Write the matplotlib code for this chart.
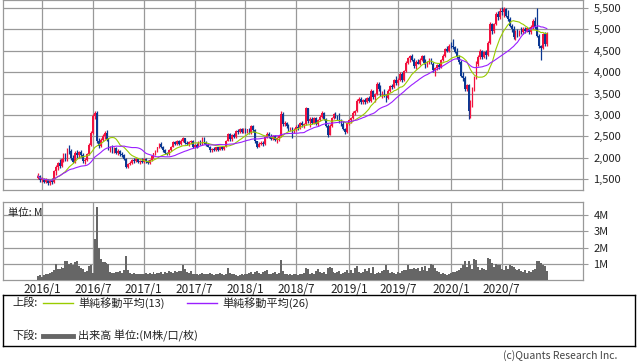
import matplotlib

matplotlib.use("Agg")
import matplotlib.pyplot as plt
import numpy as np
import pandas as pd
from matplotlib.lines import Line2D

plt.rcParams["font.family"] = ["Noto Sans CJK JP", "DejaVu Sans"]

W, H = 638, 362

# weekly candles, first week starting 2015-12-21
start_date = "2015-12-21"

opens = [
    1530, 1570, 1470, 1500, 1430, 1490, 1400, 1460, 1420, 1680,
    1780, 1870, 1800, 1960, 2050, 1950, 2200, 2150, 1980, 1900,
    2120, 2050, 2130, 2060, 1920, 1950, 2080, 2300, 2580, 2980,
    3050, 2400, 2280, 2420, 2500, 2580, 2430, 2200, 2250, 2150,
    2220, 2120, 2160, 2080, 2050, 1960, 1790, 1850, 1880, 1940,
    1910, 1960, 1900, 1930, 1900, 1960, 1920, 1870, 1940, 2030,
    2100, 2160, 2240, 2330, 2250, 2170, 2100, 2080, 2180, 2260,
    2360, 2320, 2380, 2330, 2400, 2450, 2350, 2320, 2360, 2400,
    2250, 2300, 2260, 2360, 2320, 2460, 2350, 2300, 2260, 2170,
    2200, 2180, 2240, 2190, 2250, 2200, 2260, 2400, 2550, 2430,
    2520, 2480, 2620, 2600, 2660, 2590, 2670, 2620, 2660, 2580,
    2740, 2640, 2380, 2260, 2330, 2350, 2320, 2480, 2560, 2500,
    2440, 2500, 2420, 2460, 2500, 3030, 2780, 2820, 2740, 2660,
    2700, 2600, 2680, 2720, 2700, 2800, 2760, 2780, 3150, 2850,
    2900, 2800, 2920, 2790, 2880, 2960, 3040, 2900, 2750, 2540,
    2740, 2930, 3020, 2960, 2910, 2830, 2780, 2680, 2600, 2800,
    2870, 2920, 3050, 3080, 3330, 3380, 3300, 3340, 3290, 3400,
    3330, 3560, 3420, 3480, 3720, 3600, 3480, 3520, 3450, 3400,
    3570, 3680, 3650, 3820, 3740, 3820, 3960, 3820, 4020, 4220,
    4320, 4380, 4280, 4140, 4240, 4200, 4290, 4380, 4220, 4150,
    4230, 4310, 4200, 4040, 4100, 4160, 4120, 4280, 4380, 4540,
    4500, 4620, 4600, 4580, 4480, 4350, 4240, 3920, 3860, 3600,
    3700, 3100, 3200, 3600, 3860, 4200, 4350, 4500, 4360, 4460,
    4400, 4680, 5120, 4960, 5120, 5360, 5280, 5440, 5400, 5480,
    5320, 5250, 5080, 5000, 4820, 4940, 4860, 4960, 4940, 5020,
    4960, 5040, 4930, 5060, 5200, 5050, 4850, 4600, 4560, 4900, 4650,
]
highs = [
    1640, 1590, 1540, 1530, 1520, 1500, 1480, 1520, 1700, 1830,
    1900, 1960, 2000, 2100, 2120, 2230, 2300, 2200, 2050, 2150,
    2180, 2160, 2170, 2100, 2000, 2100, 2350, 2620, 3020, 3100,
    3080, 2450, 2450, 2550, 2620, 2640, 2450, 2280, 2300, 2250,
    2240, 2200, 2180, 2130, 2090, 1980, 1880, 1920, 1960, 2000,
    1990, 1990, 1950, 1980, 1990, 1990, 1950, 1960, 2050, 2120,
    2180, 2260, 2350, 2360, 2280, 2200, 2140, 2200, 2280, 2380,
    2400, 2410, 2420, 2430, 2480, 2470, 2400, 2380, 2420, 2410,
    2320, 2340, 2380, 2420, 2480, 2480, 2380, 2340, 2280, 2230,
    2250, 2260, 2260, 2260, 2270, 2280, 2420, 2580, 2580, 2560,
    2580, 2650, 2680, 2700, 2690, 2690, 2700, 2680, 2700, 2770,
    2760, 2660, 2400, 2360, 2380, 2400, 2500, 2590, 2600, 2560,
    2530, 2520, 2480, 2520, 3080, 3060, 2860, 2840, 2780, 2720,
    2720, 2700, 2760, 2780, 2830, 2850, 2820, 3190, 3160, 2960,
    2950, 2960, 2950, 2900, 3000, 3080, 3060, 2920, 2780, 2780,
    2960, 3050, 3060, 3000, 3050, 2900, 2850, 2700, 2840, 2900,
    2950, 3080, 3120, 3370, 3420, 3410, 3380, 3400, 3420, 3440,
    3600, 3580, 3520, 3760, 3760, 3700, 3560, 3600, 3500, 3600,
    3700, 3720, 3850, 3900, 3860, 4000, 4000, 4050, 4250, 4360,
    4400, 4420, 4320, 4280, 4300, 4320, 4410, 4400, 4300, 4260,
    4340, 4330, 4240, 4120, 4200, 4220, 4300, 4420, 4560, 4600,
    4660, 4700, 4770, 4620, 4560, 4400, 4280, 4000, 3900, 3720,
    3720, 3350, 3660, 3900, 4250, 4400, 4540, 4520, 4500, 4520,
    4720, 5170, 5150, 5150, 5400, 5420, 5500, 5530, 5520, 5490,
    5450, 5300, 5120, 5080, 4980, 5000, 4990, 5050, 5060, 5060,
    5060, 5060, 5100, 5250, 5280, 5500, 4900, 4640, 4920, 4930, 4950,
]
lows = [
    1500, 1440, 1420, 1400, 1410, 1360, 1370, 1390, 1410, 1600,
    1700, 1760, 1780, 1900, 1920, 1930, 2080, 1950, 1870, 1880,
    2000, 1990, 2020, 1880, 1860, 1930, 2060, 2280, 2560, 2900,
    2340, 2230, 2250, 2380, 2430, 2400, 2180, 2140, 2120, 2110,
    2080, 2060, 2040, 2020, 1940, 1760, 1750, 1820, 1850, 1880,
    1890, 1880, 1860, 1880, 1870, 1880, 1850, 1840, 1920, 2000,
    2060, 2140, 2220, 2230, 2140, 2080, 2050, 2060, 2160, 2240,
    2290, 2290, 2300, 2300, 2360, 2320, 2290, 2280, 2330, 2230,
    2220, 2230, 2240, 2300, 2300, 2330, 2270, 2240, 2130, 2130,
    2160, 2150, 2160, 2170, 2180, 2180, 2240, 2380, 2400, 2400,
    2450, 2460, 2560, 2570, 2570, 2570, 2580, 2580, 2560, 2560,
    2600, 2350, 2220, 2240, 2300, 2280, 2300, 2460, 2460, 2420,
    2410, 2380, 2340, 2400, 2480, 2740, 2740, 2700, 2620, 2620,
    2460, 2580, 2620, 2650, 2680, 2720, 2700, 2760, 2800, 2720,
    2780, 2780, 2760, 2740, 2850, 2930, 2880, 2720, 2480, 2520,
    2720, 2900, 2920, 2880, 2800, 2740, 2640, 2550, 2580, 2760,
    2800, 2900, 3000, 3060, 3280, 3260, 3250, 3260, 3270, 3300,
    3310, 3380, 3300, 3460, 3560, 3450, 3400, 3420, 3300, 3380,
    3540, 3600, 3630, 3700, 3700, 3800, 3780, 3800, 4000, 4180,
    4240, 4250, 4100, 4080, 4180, 4170, 4260, 4180, 4100, 4120,
    4200, 4180, 4000, 3900, 4060, 4080, 4100, 4250, 4360, 4460,
    4480, 4560, 4540, 4440, 4300, 4200, 3880, 3800, 3560, 3560,
    2900, 2920, 3180, 3560, 3840, 4150, 4300, 4300, 4320, 4300,
    4380, 4660, 4900, 4920, 5100, 5220, 5250, 5330, 5300, 5280,
    5200, 5050, 4950, 4780, 4760, 4820, 4840, 4900, 4900, 4920,
    4930, 4900, 4900, 5020, 5000, 4820, 4560, 4280, 4540, 4620, 4600,
]
closes = [
    1570, 1470, 1500, 1430, 1490, 1400, 1460, 1420, 1680, 1780,
    1870, 1800, 1960, 2050, 1950, 2200, 2150, 1980, 1900, 2120,
    2050, 2130, 2060, 1920, 1950, 2080, 2300, 2580, 2980, 3050,
    2400, 2280, 2420, 2500, 2580, 2430, 2200, 2250, 2150, 2220,
    2120, 2160, 2080, 2050, 1960, 1790, 1850, 1880, 1940, 1910,
    1960, 1900, 1930, 1900, 1960, 1920, 1870, 1940, 2030, 2100,
    2160, 2240, 2330, 2250, 2170, 2100, 2080, 2180, 2260, 2360,
    2320, 2380, 2330, 2400, 2450, 2350, 2320, 2360, 2400, 2250,
    2300, 2260, 2360, 2320, 2460, 2350, 2300, 2260, 2170, 2200,
    2180, 2240, 2190, 2250, 2200, 2260, 2400, 2550, 2430, 2520,
    2480, 2620, 2600, 2660, 2590, 2670, 2620, 2660, 2580, 2740,
    2640, 2380, 2260, 2330, 2350, 2320, 2480, 2560, 2500, 2440,
    2500, 2420, 2460, 2500, 3030, 2780, 2820, 2740, 2660, 2700,
    2600, 2680, 2720, 2700, 2800, 2760, 2780, 3150, 2850, 2900,
    2800, 2920, 2790, 2880, 2960, 3040, 2900, 2750, 2540, 2740,
    2930, 3020, 2960, 2910, 2830, 2780, 2680, 2600, 2800, 2870,
    2920, 3050, 3080, 3330, 3380, 3300, 3340, 3290, 3400, 3330,
    3560, 3420, 3480, 3720, 3600, 3480, 3520, 3450, 3400, 3570,
    3680, 3650, 3820, 3740, 3820, 3960, 3820, 4020, 4220, 4320,
    4380, 4280, 4140, 4240, 4200, 4290, 4380, 4220, 4150, 4230,
    4310, 4200, 4040, 4100, 4160, 4120, 4280, 4380, 4540, 4500,
    4620, 4600, 4580, 4480, 4350, 4240, 3920, 3860, 3600, 3700,
    3100, 3200, 3600, 3860, 4200, 4350, 4500, 4360, 4460, 4400,
    4680, 5120, 4960, 5120, 5360, 5280, 5440, 5400, 5480, 5320,
    5250, 5080, 5000, 4820, 4940, 4860, 4960, 4940, 5020, 4960,
    5040, 4930, 5060, 5200, 5050, 4850, 4600, 4560, 4900, 4650, 4920,
]
# weekly volume, millions of shares
volumes = [
    0.25, 0.3, 0.2, 0.3, 0.35, 0.4, 0.45, 0.5, 0.6, 1.0,
    0.7, 0.65, 0.8, 0.75, 1.2, 1.15, 1.0, 1.05, 0.95, 1.1,
    1.15, 0.85, 0.75, 0.7, 0.5, 0.55, 0.85, 0.9, 0.45, 2.5,
    4.5, 2.0, 1.3, 1.1, 1.1, 1.05, 1.0, 0.5, 0.45, 0.45,
    0.5, 0.5, 0.55, 0.45, 0.6, 1.45, 0.6, 0.45, 0.4, 0.45,
    0.35, 0.4, 0.35, 0.4, 0.4, 0.45, 0.35, 0.45, 0.4, 0.5,
    0.4, 0.45, 0.45, 0.5, 0.4, 0.5, 0.45, 0.55, 0.5, 0.45,
    0.55, 0.5, 0.55, 0.55, 0.95, 0.7, 0.5, 0.45, 0.55, 0.4,
    0.35, 0.4, 0.3, 0.35, 0.45, 0.4, 0.35, 0.35, 0.45, 0.4,
    0.3, 0.35, 0.4, 0.45, 0.35, 0.3, 0.4, 0.75, 0.45, 0.4,
    0.35, 0.3, 0.25, 0.3, 0.35, 0.3, 0.4, 0.35, 0.45, 0.5,
    0.4, 0.5, 0.55, 0.45, 0.4, 0.5, 0.55, 0.6, 0.4, 0.35,
    0.45, 0.5, 0.4, 0.45, 1.25, 0.55, 0.4, 0.35, 0.3, 0.35,
    0.3, 0.35, 0.4, 0.3, 0.35, 0.4, 0.45, 0.75, 0.7, 0.4,
    0.45, 0.35, 0.55, 0.7, 0.5, 0.45, 0.5, 0.4, 0.75, 0.8,
    0.75, 0.5, 0.45, 0.5, 0.55, 0.4, 0.45, 0.5, 0.6, 0.45,
    0.6, 0.45, 0.75, 0.85, 0.5, 0.45, 0.5, 0.7, 0.55, 0.75,
    0.45, 0.8, 0.4, 0.45, 0.5, 0.45, 0.55, 0.6, 0.9, 0.6,
    0.45, 0.5, 0.45, 0.4, 0.5, 0.45, 0.55, 0.6, 0.6, 0.9,
    0.65, 0.7, 0.75, 0.65, 0.75, 0.55, 0.8, 0.6, 0.85, 0.55,
    0.75, 1.0, 0.95, 0.75, 0.55, 0.5, 0.4, 0.45, 0.35, 0.3,
    0.4, 0.45, 0.5, 0.5, 0.55, 0.6, 0.75, 0.9, 1.15, 0.8,
    1.2, 0.95, 0.7, 1.3, 1.25, 0.8, 0.6, 0.75, 0.7, 0.6,
    1.35, 1.3, 1.05, 0.8, 1.0, 0.95, 0.9, 0.65, 0.6, 0.85,
    0.7, 0.95, 0.85, 0.8, 0.7, 0.6, 0.65, 0.55, 0.5, 0.6,
    0.45, 0.55, 0.5, 0.6, 0.65, 1.15, 1.15, 1.05, 0.9, 0.85, 0.55,
]

price_ticks = [1500, 2000, 2500, 3000, 3500, 4000, 4500, 5000, 5500]
volume_ticks = [1, 2, 3, 4]
volume_tick_labels = ["1M", "2M", "3M", "4M"]
ma_windows = [13, 26]

UP = "#f2123f"
DOWN = "#0b3892"
GRID = "#999999"
MA13 = "#99cc00"
MA26 = "#9a1fff"


def px_rect(left, top, right, bottom):
    return [left / W, 1 - bottom / H, (right - left) / W, (bottom - top) / H]


def px(x, y):
    return x / W, 1 - y / H


def style_axes(axis):
    axis.yaxis.tick_right()
    axis.tick_params(axis="y", length=3.5, width=0.8, color=GRID, pad=4, labelsize=8, labelcolor="#222222")
    axis.grid(True, color=GRID, lw=0.9, zorder=0)
    for s in axis.spines.values():
        s.set_color(GRID)
        s.set_linewidth(0.9)


o = np.array(opens, dtype=float)
h = np.array(highs, dtype=float)
l = np.array(lows, dtype=float)
c = np.array(closes, dtype=float)
x = np.arange(len(c))
dates = pd.date_range(start_date, periods=len(c), freq="7D")

tick_pos, tick_lab = [], []
for year in range(2016, 2021):
    for month in (1, 7):
        tick_pos.append(int(np.searchsorted(dates, pd.Timestamp(year, month, 1))))
        tick_lab.append(f"{year}/{month}")

ma = {w: pd.Series(c).rolling(w, min_periods=1).mean() for w in ma_windows}

fig = plt.figure(figsize=(W / 100, H / 100), dpi=100)
xlim = (-17.9, 278.5)

# price panel
ax = fig.add_axes(px_rect(3, 0, 583, 190))
colors = np.where(c >= o, UP, DOWN)
ax.vlines(x, l, h, colors=colors, lw=0.9, zorder=3)
body = np.maximum(np.abs(c - o), 18)
ax.bar(x, body, bottom=np.minimum(o, c), width=0.85, color=colors, linewidth=0, zorder=3)
ax.plot(x, ma[13], color=MA13, lw=0.8, zorder=4)
ax.plot(x, ma[26], color=MA26, lw=0.8, zorder=4)
ax.set_xlim(*xlim)
ax.set_ylim(1243, 5687)
ax.set_yticks(price_ticks)
ax.set_yticklabels([f"{v:,}" for v in price_ticks])
ax.set_xticks(tick_pos)
ax.tick_params(axis="x", length=0, labelbottom=False)
style_axes(ax)

# volume panel
vx = fig.add_axes(px_rect(3, 202, 583, 280))
vx.bar(x, volumes, width=1.0, color="#666666", linewidth=0, zorder=3)
vx.set_xlim(*xlim)
vx.set_ylim(0, 4.8)
vx.set_yticks(volume_ticks)
vx.set_yticklabels(volume_tick_labels)
vx.set_xticks(tick_pos)
vx.set_xticklabels(tick_lab)
vx.tick_params(axis="x", length=0, pad=2.5, labelsize=8.5, labelcolor="#222222")
style_axes(vx)
vx.text(0.009, 0.93, "単位: M", transform=vx.transAxes, ha="left", va="top", fontsize=7.5, color="#222222")

# legend box
lg = fig.add_axes(px_rect(3, 295, 635, 346))
lg.set_xticks([])
lg.set_yticks([])
for s in lg.spines.values():
    s.set_color("black")
    s.set_linewidth(1.0)


def legend_line(x0, x1, y, color, lw):
    (a, b), (a2, _) = px(x0, y), px(x1, y)
    fig.add_artist(Line2D([a, a2], [b, b], color=color, lw=lw, transform=fig.transFigure))


def legend_text(x0, y, s):
    fig.text(*px(x0, y), s, ha="left", va="center", fontsize=8, color="#222222")


legend_text(12, 303, "上段:")
legend_line(43, 73, 303, MA13, 1.0)
legend_text(78, 303, "単純移動平均(13)")
legend_line(187, 217, 303, MA26, 1.0)
legend_text(222, 303, "単純移動平均(26)")
legend_text(12, 336, "下段:")
legend_line(43, 73, 336, "#666666", 3.5)
legend_text(78, 336, "出来高 単位:(M株/口/枚)")

fig.text(*px(617, 356), "(c)Quants Research Inc.", ha="right", va="center", fontsize=7.5, color="#444444")

fig.savefig("out.png", dpi=100)
